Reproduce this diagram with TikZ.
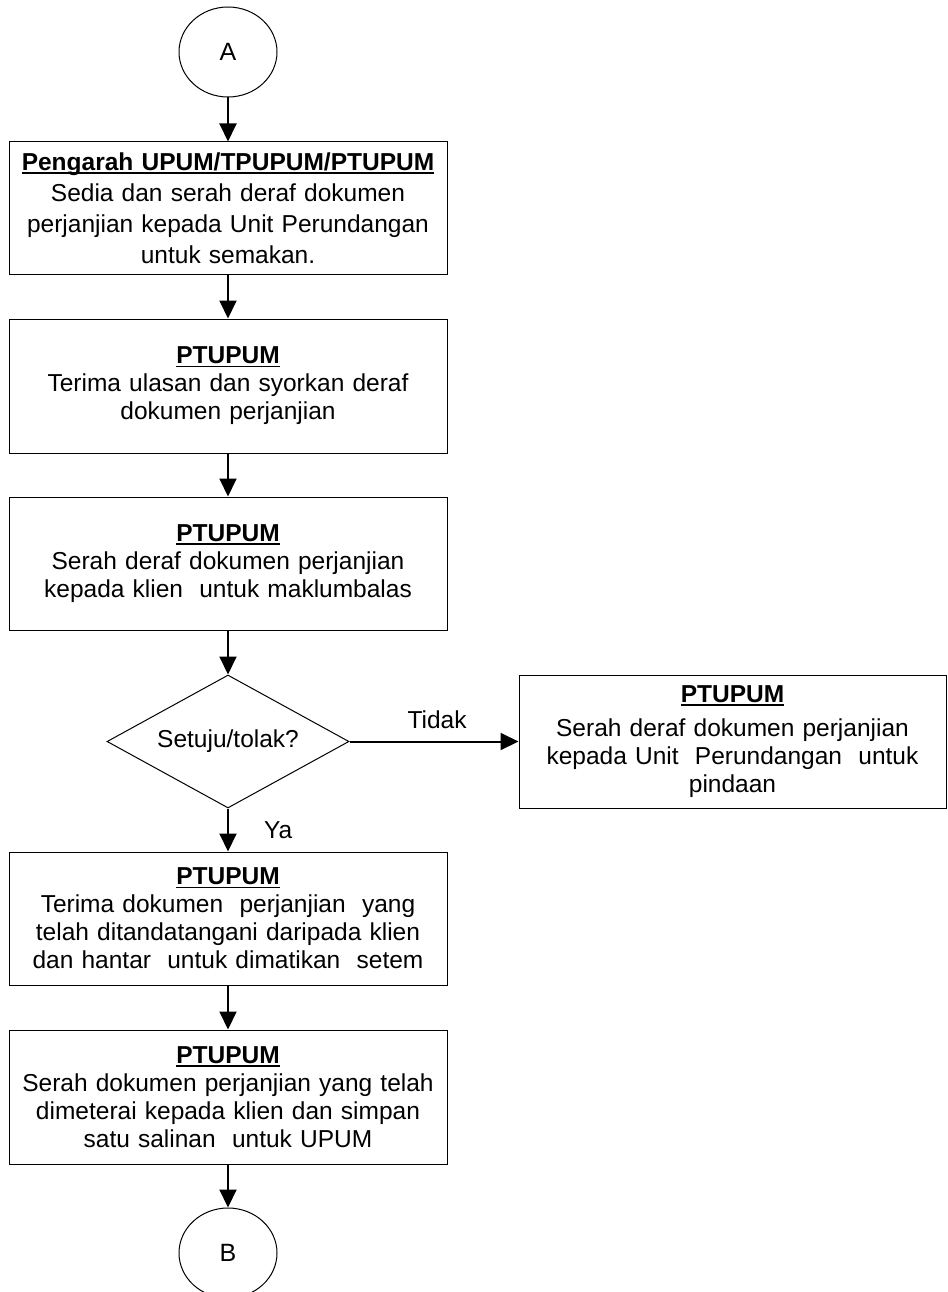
\documentclass[tikz,border=0pt]{standalone}
\usepackage{fontspec}
\setmainfont{Liberation Sans}
\usetikzlibrary{shapes.geometric,arrows.meta}
\newcommand\ulhead[1]{\setbox0\hbox{\textbf{#1}}\rlap{\rule[-3.5pt]{\wd0}{1.8pt}}\box0}
\begin{document}
\begin{tikzpicture}[x=1pt,y=-1pt,
  every node/.style={font=\fontsize{24.5}{28}\selectfont},
  stepbox/.style={draw=black,line width=1pt,rectangle,inner sep=0pt,
    minimum width=438pt,minimum height=133pt,align=center,text width=436pt},
  conn/.style={draw=black,line width=1pt,ellipse,inner sep=0pt,minimum width=98pt,minimum height=90pt,font=\fontsize{25}{28}\selectfont},
  decide/.style={draw=black,line width=1pt,diamond,aspect=1.82,inner sep=0pt,minimum width=242pt,minimum height=133pt},
  arr/.style={line width=2pt,-{Triangle[length=18pt,width=17pt]}},
  lbl/.style={inner sep=0pt}
]
\useasboundingbox (0,0) rectangle (947,1292);
\node[conn] (A) at (228,52) {A};
\node[stepbox,minimum height=132pt,font=\fontsize{24.5}{31}\selectfont] (b1) at (228,208) {\ulhead{Pengarah UPUM/TPUPUM/PTUPUM}\\Sedia dan serah deraf dokumen\\perjanjian kepada Unit Perundangan\\untuk semakan.};
\node[stepbox,minimum height=134pt] (b2) at (228,386) {\ulhead{PTUPUM}\\Terima ulasan dan syorkan deraf\\dokumen perjanjian};
\node[stepbox] (b3) at (228,563.5) {\ulhead{PTUPUM}\\Serah deraf dokumen perjanjian\\kepada klien\ \ untuk maklumbalas};
\node[decide] (d) at (228,741.5) {Setuju/tolak?};
\node[draw=black,line width=1pt,rectangle,inner sep=0pt,minimum width=427pt,minimum height=133pt,align=center,text width=425pt] (r) at (732.5,741.5) {\ulhead{PTUPUM}\\[6pt]Serah deraf dokumen perjanjian\\kepada Unit\ \ Perundangan\ \ untuk\\pindaan};
\node[stepbox] (b4) at (228,918.5) {\ulhead{PTUPUM}\\Terima dokumen\ \ perjanjian\ \ yang\\telah ditandatangani daripada klien\\dan hantar\ \ untuk dimatikan\ \ setem};
\node[stepbox,minimum height=134pt] (b5) at (228,1097) {\ulhead{PTUPUM}\\Serah dokumen perjanjian yang telah\\dimeterai kepada klien dan simpan\\satu salinan\ \ untuk UPUM};
\node[conn] (B) at (228,1253) {B};
\draw[arr] (A.south) -- (b1.north);
\draw[arr] (b1.south) -- (b2.north);
\draw[arr] (b2.south) -- (b3.north);
\draw[arr] (b3.south) -- (d.north);
\draw[arr] (d.south) -- (b4.north);
\draw[arr] (b4.south) -- (b5.north);
\draw[arr] (b5.south) -- (B.north);
\draw[arr] (d.east) -- (r.west);
\node[lbl] (tidak) at (437,720) {Tidak};
\node[lbl,anchor=west] (ya) at (264,830) {Ya};
\end{tikzpicture}
\end{document}
